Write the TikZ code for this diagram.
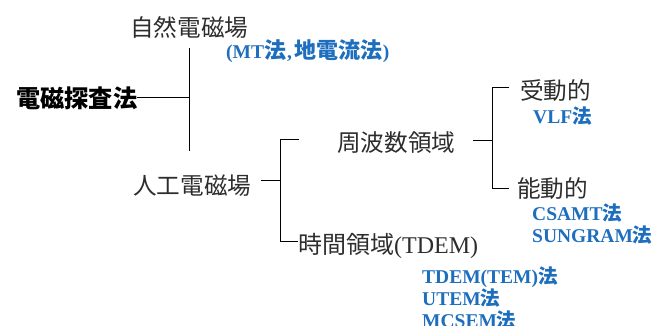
\documentclass[tikz,border=0pt]{standalone}
\usepackage{fontspec}
\setmainfont{Liberation Serif}
\newfontfamily\cjk{Noto Sans CJK JP}
\definecolor{txt}{RGB}{45,45,45}
\definecolor{blu}{RGB}{30,110,190}
\begin{document}
\begin{tikzpicture}[x=1pt,y=-1pt,
  lbl/.style={anchor=base west,inner sep=0pt,text=txt,font=\fontsize{24}{26}\selectfont},
  cj/.style={lbl,font=\fontsize{23.6}{26}\selectfont\cjk},
  blab/.style={anchor=base west,inner sep=0pt,text=blu,font=\fontsize{19.5}{22}\selectfont\bfseries},
  ln/.style={line width=1pt,draw=black}]
\useasboundingbox (0,0) rectangle (669,325);
% nodes
\node[lbl,text=black,font=\fontsize{24.2}{26}\selectfont\bfseries\cjk] (root) at (16,107) {電磁探査法};
\node[cj] (nat) at (130,36) {自然電磁場};
\node[blab] (natm) at (226,58) {(MT{\fontsize{22}{22}\selectfont\cjk 法}\hspace{1pt},\hspace{3pt}{\fontsize{22}{22}\selectfont\cjk 地電流法})};
\node[cj] (art) at (133,194) {人工電磁場};
\node[cj] (freq) at (337,151) {周波数領域};
\node[lbl] (time) at (298,253) {{\cjk 時間領域}(TDEM)};
\node[cj] (pas) at (520,99) {受動的};
\node[blab] (vlf) at (533,123) {VLF{\cjk 法}};
\node[cj] (act) at (517,197) {能動的};
\node[blab] (csamt) at (532,220) {CSAMT{\cjk 法}};
\node[blab] (sungram) at (532,242) {SUNGRAM{\cjk 法}};
\node[blab] (tdem) at (422,283) {TDEM(TEM){\cjk 法}};
\node[blab] (utem) at (422,305) {UTEM{\cjk 法}};
\node[blab] (mcsem) at (422,327) {MCSEM{\cjk 法}};
% bracket 1
\coordinate (b1) at (189,97);
\coordinate (b1t) at (189,48);
\coordinate (b1b) at (189,151);
\draw[ln] (root.east |- b1) -- (b1);
\draw[ln] (b1t) -- (b1b);
% bracket 2
\coordinate (a2) at (261,180);
\coordinate (b2) at (280,180);
\coordinate (b2t) at (280,139);
\coordinate (b2b) at (280,241);
\coordinate (e2t) at (299,139);
\draw[ln] (a2) -- (b2);
\draw[ln] (e2t) -- (b2t) -- (b2b) -- (time.west |- b2b);
% bracket 3
\coordinate (a3) at (473,140);
\coordinate (b3) at (492,140);
\coordinate (b3t) at (492,87);
\coordinate (b3b) at (492,188);
\coordinate (e3t) at (509,87);
\coordinate (e3b) at (509,188);
\draw[ln] (a3) -- (b3);
\draw[ln] (e3t) -- (b3t) -- (b3b) -- (e3b);
\end{tikzpicture}
\end{document}
